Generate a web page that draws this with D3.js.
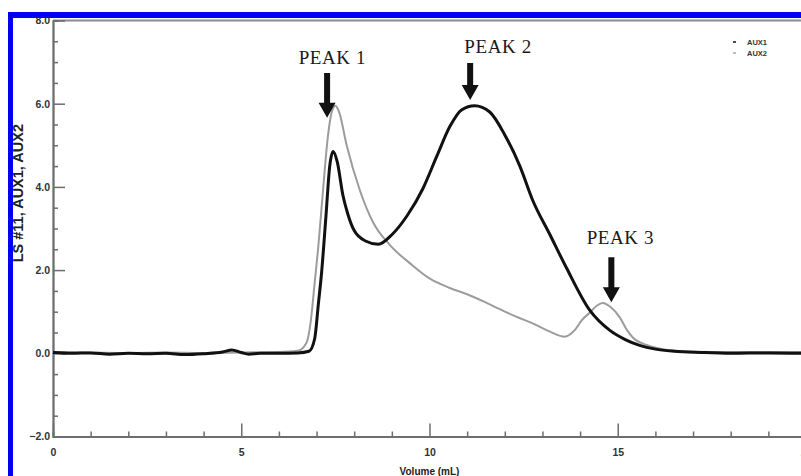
<!DOCTYPE html>
<html>
<head>
<meta charset="utf-8">
<script src="https://cdn.jsdelivr.net/npm/d3@7"></script>
<style>
  html, body { margin: 0; padding: 0; background: #fff; }
  svg { display: block; }
</style>
</head>
<body>
<svg id="chart" width="801" height="476"></svg>
<script>
// Elution profile: volume (mL) vs detector signal for the two auxiliary channels.
const aux1Volume = [0, 0.5, 1.0, 1.5, 2.0, 2.5, 3.0, 3.5, 4.0, 4.5, 4.75, 5.0, 5.2, 5.5, 6.0, 6.5, 6.8,
  6.95, 7.05, 7.13, 7.25, 7.35, 7.44, 7.55, 7.7, 7.83, 8.0, 8.3, 8.64, 9.0, 9.4, 9.82, 10.2, 10.54,
  10.85, 11.2, 11.6, 12.0, 12.4, 12.74, 13.2, 13.64, 14.26, 14.79, 15.2, 15.58, 16.0, 16.5, 17.2,
  18.0, 19.0, 19.9];
const aux1Signal = [0.02, 0.0, 0.01, -0.02, 0.0, -0.01, 0.0, -0.03, -0.01, 0.03, 0.08, 0.02, -0.02, 0.0, 0.0, 0.01, 0.05,
  0.35, 1.2, 1.9, 3.3, 4.5, 4.85, 4.6, 3.8, 3.35, 2.95, 2.7, 2.62, 2.85, 3.3, 3.95, 4.75, 5.45,
  5.85, 5.95, 5.8, 5.25, 4.5, 3.68, 2.85, 2.05, 1.03, 0.55, 0.33, 0.19, 0.1, 0.05, 0.02,
  0.0, 0.01, 0.0];

const aux2Volume = [0, 1, 2, 3, 4, 5, 6, 6.5, 6.73, 6.85, 6.95, 7.04, 7.17, 7.3, 7.42, 7.5, 7.6, 7.8,
  8.15, 8.5, 8.95, 9.5, 10.0, 10.54, 11.0, 11.5, 11.87, 12.3, 12.74, 13.2, 13.59, 13.85, 14.05,
  14.26, 14.45, 14.6, 14.8, 15.05, 15.25, 15.4, 15.77, 16.2, 17, 18, 19.9];
const aux2Signal = [0.03, 0.02, 0.01, 0.02, 0.01, 0.02, 0.03, 0.06, 0.25, 0.8, 1.7, 2.5, 3.9, 5.2, 5.85, 5.95, 5.8, 5.0,
  3.92, 3.15, 2.6, 2.15, 1.8, 1.57, 1.42, 1.22, 1.06, 0.88, 0.72, 0.52, 0.4, 0.55, 0.8,
  0.98, 1.15, 1.21, 1.12, 0.87, 0.55, 0.38, 0.2, 0.1, 0.04, 0.03, 0.03];

// Axis ticks
const xMajorTicks = [0, 5, 10, 15, 20];
const xMinorTicks = [1, 2, 3, 4, 6, 7, 8, 9, 11, 12, 13, 14, 16, 17, 18, 19];
const yMajorTicks = [-2, 0, 2, 4, 6, 8];
const yMinorTicks = [-1.5, -1, -0.5, 0.5, 1, 1.5, 2.5, 3, 3.5, 4.5, 5, 5.5, 6.5, 7, 7.5];

// Peak annotations (volume / signal coordinates)
const peakLabels = ["PEAK 1", "PEAK 2", "PEAK 3"];
const peakVolume = [7.28, 11.08, 14.83];
const peakTipSignal = [5.66, 6.09, 1.23];
const peakTailSignal = [6.74, 6.98, 2.31];
const peakLabelVolume = [7.42, 11.82, 15.07];
const peakLabelSignal = [6.95, 7.22, 2.63];

const seriesNames = ["AUX1", "AUX2"];

const svg = d3.select("#chart");
const W = 801, H = 476;

const x = d3.scaleLinear().domain([0, 20]).range([53, 806]);
const y = d3.scaleLinear().domain([-2, 8]).range([436.5, 20.5]);

const axisColor = "#6e6e6e";
const labelFont = "'Liberation Sans', Arial, sans-serif";

// Plot frame top edge
svg.append("line")
  .attr("x1", x(0)).attr("x2", W)
  .attr("y1", y(8)).attr("y2", y(8))
  .attr("stroke", "#8a8a8a").attr("stroke-width", 2);

// Y axis
function styleAxis(g) {
  g.select(".domain").attr("stroke", axisColor).attr("stroke-width", 1.8);
  g.selectAll(".tick line").attr("stroke", axisColor).attr("stroke-width", 1.5);
  g.selectAll(".tick text")
    .attr("fill", "#333").attr("font-family", labelFont)
    .attr("font-weight", "bold").attr("font-size", 10.5);
}

svg.append("g")
  .attr("transform", `translate(${x(0)},0)`)
  .call(d3.axisLeft(y).tickValues(yMinorTicks).tickSize(-5).tickFormat(""))
  .call(styleAxis);
svg.append("g")
  .attr("transform", `translate(${x(0)},0)`)
  .call(d3.axisLeft(y).tickValues(yMajorTicks).tickSizeInner(-12).tickSizeOuter(0)
    .tickPadding(3).tickFormat(d3.format(".1f")))
  .call(styleAxis);

// X axis
svg.append("g")
  .attr("transform", `translate(0,${y(-2)})`)
  .call(d3.axisBottom(x).tickValues(xMinorTicks).tickSize(-5).tickFormat(""))
  .call(styleAxis);
svg.append("g")
  .attr("transform", `translate(0,${y(-2)})`)
  .call(d3.axisBottom(x).tickValues(xMajorTicks).tickSizeInner(-13).tickSizeOuter(0)
    .tickPadding(12).tickFormat(d3.format("d")))
  .call(styleAxis);

// Axis titles
svg.append("text")
  .attr("x", x(10)).attr("y", 475)
  .attr("text-anchor", "middle")
  .attr("font-family", labelFont).attr("font-weight", "bold").attr("font-size", 10)
  .attr("fill", "#222")
  .text("Volume (mL)");

svg.append("text")
  .attr("transform", `translate(23,${y(3.85)}) rotate(-90)`)
  .attr("text-anchor", "middle")
  .attr("font-family", labelFont).attr("font-weight", "bold").attr("font-size", 14.5)
  .attr("fill", "#222")
  .text("LS #11, AUX1, AUX2");

// Traces
const line = d3.line()
  .x(d => x(d[0]))
  .y(d => y(d[1]))
  .curve(d3.curveMonotoneX);

const aux1 = aux1Volume.map((v, i) => [v, aux1Signal[i]]);
const aux2 = aux2Volume.map((v, i) => [v, aux2Signal[i]]);

svg.append("path")
  .datum(aux2)
  .attr("d", line)
  .attr("fill", "none")
  .attr("stroke", "#9c9c9c")
  .attr("stroke-width", 2);

svg.append("path")
  .datum(aux1)
  .attr("d", line)
  .attr("fill", "none")
  .attr("stroke", "#111")
  .attr("stroke-width", 3)
  .attr("stroke-linejoin", "round");

// Legend
const legend = svg.append("g");
seriesNames.forEach((name, i) => {
  const ly = 42 + i * 11;
  legend.append("line")
    .attr("x1", 733).attr("x2", 736).attr("y1", ly).attr("y2", ly)
    .attr("stroke", i === 0 ? "#111" : "#aaa").attr("stroke-width", 1.5);
  legend.append("text")
    .attr("x", 747).attr("y", ly).attr("dy", "0.35em")
    .attr("font-family", labelFont).attr("font-weight", "bold").attr("font-size", 7.5)
    .attr("fill", "#333")
    .text(name);
});

// Peak arrows and labels
const shaftW = 6, headW = 17, headH = 15;
peakLabels.forEach((label, i) => {
  const ax = x(peakVolume[i]);
  const tip = y(peakTipSignal[i]);
  const tail = y(peakTailSignal[i]);
  const headTop = tip - headH;
  svg.append("path")
    .attr("d", `M${ax - shaftW / 2},${tail} L${ax + shaftW / 2},${tail} L${ax + shaftW / 2},${headTop}
      L${ax + headW / 2},${headTop} L${ax},${tip} L${ax - headW / 2},${headTop}
      L${ax - shaftW / 2},${headTop} Z`)
    .attr("fill", "#111");
  svg.append("text")
    .attr("x", x(peakLabelVolume[i])).attr("y", y(peakLabelSignal[i]))
    .attr("text-anchor", "middle")
    .attr("font-family", "'Liberation Serif', 'Times New Roman', serif")
    .attr("font-size", 19).attr("letter-spacing", 0.6)
    .attr("fill", "#1a1a1a")
    .text(label);
});

// Window frame
svg.append("rect").attr("x", 8).attr("y", 12).attr("width", 5).attr("height", H)
  .attr("fill", "#0000f5");
svg.append("rect").attr("x", 8).attr("y", 12).attr("width", W).attr("height", 6)
  .attr("fill", "#0000f5");
</script>
</body>
</html>
